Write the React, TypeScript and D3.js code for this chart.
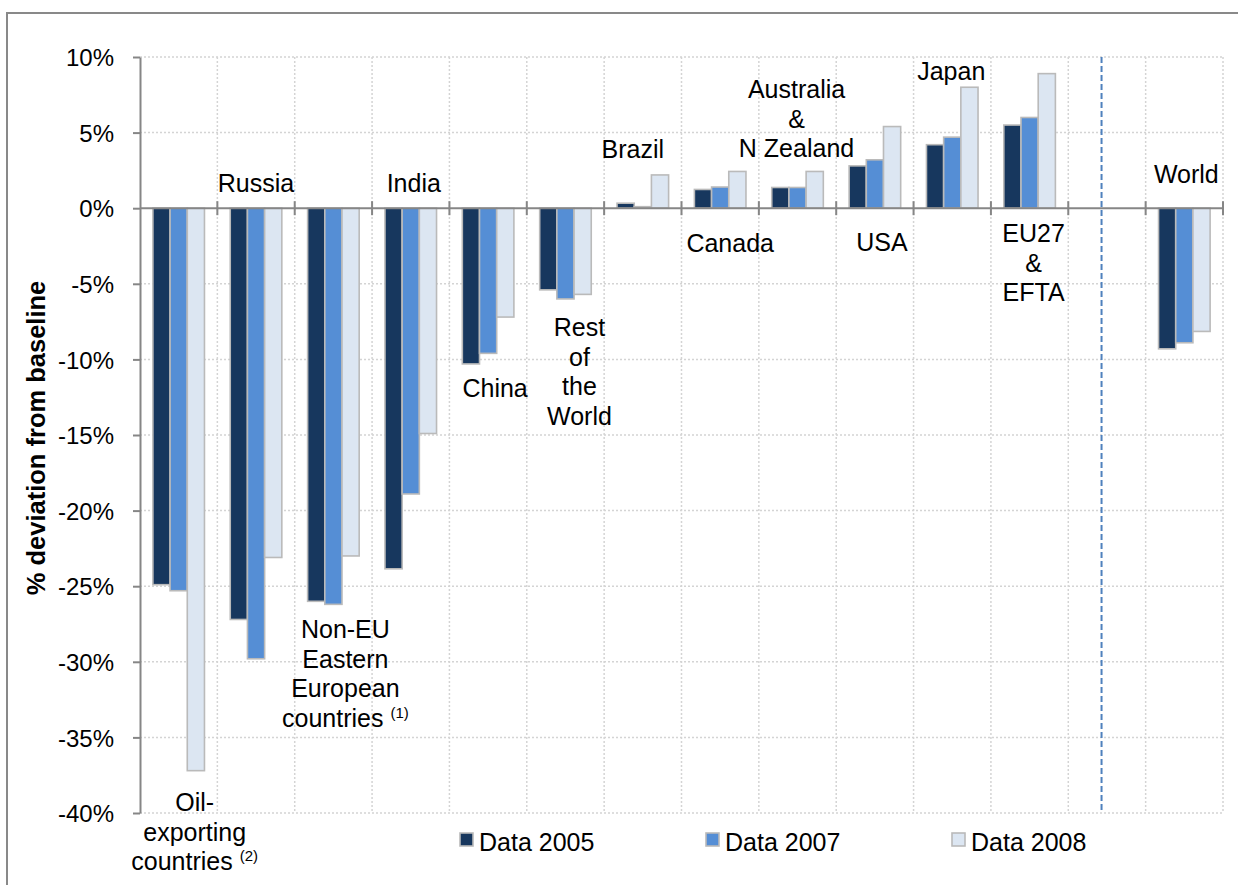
import React, { useRef, useEffect } from 'react';
import * as d3 from 'd3';

// Categories (the blank one is the spacer before "World")
const categories = [
  'Oil-exporting',
  'Russia',
  'Non-EU Eastern European',
  'India',
  'China',
  'Rest of the World',
  'Brazil',
  'Canada',
  'Australia & N Zealand',
  'USA',
  'Japan',
  'EU27 & EFTA',
  'gap',
  'World',
];

const series = ['Data 2005', 'Data 2007', 'Data 2008'];

// % deviation from baseline
const data2005 = [-24.9, -27.2, -26.0, -23.85, -10.3, -5.4, 0.33, 1.24, 1.37, 2.8, 4.2, 5.5, null, -9.3];
const data2007 = [-25.3, -29.8, -26.2, -18.9, -9.6, -6.0, 0.1, 1.4, 1.37, 3.2, 4.7, 6.0, null, -8.9];
const data2008 = [-37.2, -23.1, -23.0, -14.9, -7.2, -5.7, 2.2, 2.43, 2.43, 5.4, 8.0, 8.9, null, -8.15];

const yTicks = [10, 5, 0, -5, -10, -15, -20, -25, -30, -35, -40];
const yTickLabels = ['10%', '5%', '0%', '-5%', '-10%', '-15%', '-20%', '-25%', '-30%', '-35%', '-40%'];

// category label text, one entry per line ("^" starts a superscript)
const labelLines: string[][] = [
  ['Oil-', 'exporting', 'countries ^(2)'],
  ['Russia'],
  ['Non-EU', 'Eastern', 'European', 'countries ^(1)'],
  ['India'],
  ['China'],
  ['Rest', 'of', 'the', 'World'],
  ['Brazil'],
  ['Canada'],
  ['Australia', '&', 'N Zealand'],
  ['USA'],
  ['Japan'],
  ['EU27', '&', 'EFTA'],
  [],
  ['World'],
];

// label placement: horizontal shift from the category centre (px) and first baseline (in % units)
const labelLayout = [
  { dx: 16, at: -39.9 },
  { dx: 0, at: 1.1 },
  { dx: 12, at: -28.45 },
  { dx: 3, at: 1.1 },
  { dx: 7, at: -12.5 },
  { dx: 14, at: -8.47 },
  { dx: -10, at: 3.3 },
  { dx: 10, at: -2.9 },
  { dx: -1, at: 7.27 },
  { dx: 7, at: -2.85 },
  { dx: -1, at: 8.47 },
  { dx: 4, at: -2.25 },
  { dx: 0, at: 0 },
  { dx: 2, at: 1.65 },
];

const colors = ['#17375e', '#558ed5', '#dce6f2'];
const FONT = '"Liberation Sans", Arial, sans-serif';

export default function App() {
  const ref = useRef<SVGSVGElement>(null);

  useEffect(() => {
    if (!ref.current) return;
    drawChart(ref.current);
  }, []);

  return (
    <svg
      ref={ref}
      width={1238}
      height={885}
      style={{ position: 'absolute', left: 0, top: 0, background: '#fff' }}
    />
  );
}

function drawChart(svgElement: SVGSVGElement) {
  const left = 140;
  const right = 1223;
  const top = 57;
  const bottom = 813;

  const svg = d3.select(svgElement);
  svg.selectAll('*').remove();

  // outer frame
  svg.append('rect')
    .attr('x', 7).attr('y', 13)
    .attr('width', 1300).attr('height', 900)
    .attr('fill', '#fff')
    .attr('stroke', '#898989')
    .attr('stroke-width', 2);

  const x = d3.scaleBand().domain(categories).range([left, right]).padding(0);
  const bw = x.bandwidth();
  const xs = d3.scaleBand().domain(series).range([bw / 6, bw - bw / 6]).padding(0);
  const y = d3.scaleLinear().domain([-40, 10]).range([bottom, top]);

  // gridlines
  const grid = svg.append('g')
    .attr('stroke', '#d4d4d4')
    .attr('stroke-width', 1.5)
    .attr('stroke-dasharray', '2,2');
  grid.selectAll('.hgrid')
    .data(yTicks.filter((d) => d !== 0))
    .enter().append('line')
    .attr('x1', left).attr('x2', right)
    .attr('y1', (d) => y(d)).attr('y2', (d) => y(d));
  grid.selectAll('.vgrid')
    .data(categories)
    .enter().append('line')
    .attr('x1', (d) => x(d)! + bw).attr('x2', (d) => x(d)! + bw)
    .attr('y1', top).attr('y2', bottom);

  // bars
  const seriesValues = [data2005, data2007, data2008];
  const rows = categories.flatMap((c, i) =>
    series.map((s, k) => ({ c, s, k, v: seriesValues[k][i] }))
  ).filter((d) => d.v !== null) as { c: string; s: string; k: number; v: number }[];

  svg.append('g')
    .selectAll('rect')
    .data(rows)
    .enter().append('rect')
    .attr('x', (d) => x(d.c)! + xs(d.s)!)
    .attr('width', xs.bandwidth())
    .attr('y', (d) => y(Math.max(0, d.v)))
    .attr('height', (d) => Math.abs(y(d.v) - y(0)))
    .attr('fill', (d) => colors[d.k])
    .attr('stroke', '#bababa')
    .attr('stroke-width', 1.6);

  // separator before World
  const sepX = x('gap')! + bw * 0.43;
  svg.append('line')
    .attr('x1', sepX).attr('x2', sepX)
    .attr('y1', top).attr('y2', bottom - 3)
    .attr('stroke', '#4f81bd')
    .attr('stroke-width', 2)
    .attr('stroke-dasharray', '6,3');

  // y axis
  const yAxis = svg.append('g')
    .attr('transform', `translate(${left},0)`)
    .call(
      d3.axisLeft(y)
        .tickValues(yTicks)
        .tickFormat((_, i) => yTickLabels[i])
        .tickSize(7)
        .tickSizeOuter(0)
        .tickPadding(19)
    );
  yAxis.attr('font-family', FONT).attr('font-size', 24);
  yAxis.select('.domain').attr('stroke', '#868686').attr('stroke-width', 2);
  yAxis.selectAll('.tick line').attr('stroke', '#868686').attr('stroke-width', 2);
  yAxis.selectAll('.tick text').attr('fill', '#000').attr('dy', '0.36em');

  // zero line with crossing ticks
  const zero = svg.append('g').attr('stroke', '#868686').attr('stroke-width', 2);
  zero.append('line')
    .attr('x1', left).attr('x2', right)
    .attr('y1', y(0)).attr('y2', y(0));
  zero.selectAll('.xtick')
    .data(categories)
    .enter().append('line')
    .attr('x1', (d) => x(d)! + bw).attr('x2', (d) => x(d)! + bw)
    .attr('y1', y(0) - 7).attr('y2', y(0) + 7);

  // category labels
  const labels = svg.append('g')
    .attr('font-family', FONT)
    .attr('font-size', 25)
    .attr('fill', '#000')
    .attr('text-anchor', 'middle');
  categories.forEach((c, i) => {
    const cx = x(c)! + bw / 2 + labelLayout[i].dx;
    const y0 = y(labelLayout[i].at);
    labelLines[i].forEach((line, j) => {
      const t = labels.append('text')
        .attr('x', cx)
        .attr('y', y0 + j * 29.5);
      const [main, sup] = line.split('^');
      t.append('tspan').text(main);
      if (sup) {
        t.append('tspan')
          .attr('font-size', 15)
          .attr('dy', -9)
          .text(sup);
      }
    });
  });

  // y title
  svg.append('text')
    .attr('transform', 'translate(45,438) rotate(-90)')
    .attr('text-anchor', 'middle')
    .attr('font-family', FONT)
    .attr('font-size', 25.5)
    .attr('font-weight', 'bold')
    .attr('fill', '#000')
    .text('% deviation from baseline');

  // legend
  const legend = svg.append('g')
    .attr('font-family', FONT)
    .attr('font-size', 25);
  const items = legend.selectAll('.item')
    .data(series)
    .enter().append('g')
    .attr('transform', (_, i) => `translate(${460 + i * 246},833)`);
  items.append('rect')
    .attr('width', 13).attr('height', 13)
    .attr('fill', (_, i) => colors[i])
    .attr('stroke', '#bababa')
    .attr('stroke-width', 1.6);
  items.append('text')
    .attr('x', 19)
    .attr('y', 18)
    .attr('fill', '#000')
    .text((d) => d);
}
